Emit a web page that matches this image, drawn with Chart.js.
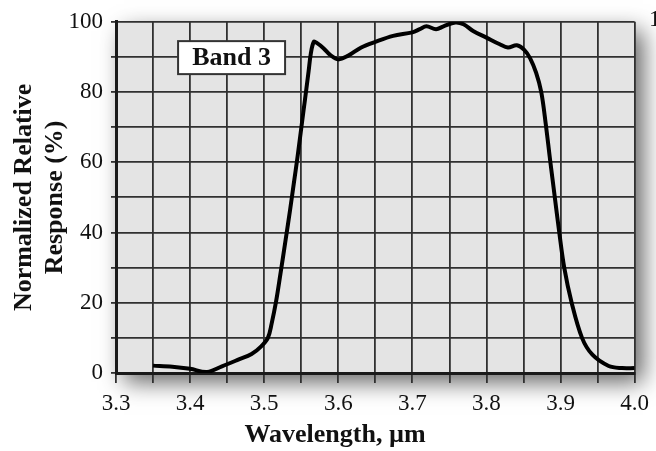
<!DOCTYPE html>
<html>
<head>
<meta charset="utf-8">
<script src="https://cdn.jsdelivr.net/npm/chart.js@4.4.1/dist/chart.umd.min.js"></script>
<style>
  html, body { margin: 0; padding: 0; background: #fff; }
  #wrap { width: 656px; height: 451px; position: relative; }
</style>
</head>
<body>
<div id="wrap"><canvas id="chart" width="656" height="451"></canvas></div>
<script>
// wavelength (µm) and normalized response (%)
const wavelength = [3.350, 3.376, 3.400, 3.423, 3.443, 3.465, 3.483, 3.496, 3.505, 3.510,
    3.516, 3.522, 3.529, 3.535, 3.540, 3.545, 3.549, 3.553, 3.557, 3.560,
    3.563, 3.567, 3.571, 3.580, 3.589, 3.600, 3.613, 3.631, 3.650, 3.674,
    3.700, 3.710, 3.719, 3.732, 3.742, 3.758, 3.769, 3.782, 3.800, 3.818,
    3.829, 3.841, 3.851, 3.859, 3.867, 3.874, 3.880, 3.886, 3.892, 3.898,
    3.905, 3.915, 3.929, 3.943, 3.965, 3.983, 4.000];
const response = [2.1, 1.8, 1.2, 0.3, 1.9, 3.8, 5.4, 7.6, 10.0, 14.0,
    20.3, 28.3, 38.0, 46.5, 54.0, 61.5, 68.0, 74.5, 81.0, 86.0,
    91.0, 94.3, 94.0, 92.5, 90.6, 89.3, 90.3, 92.7, 94.3, 96.0,
    97.0, 97.9, 98.7, 97.9, 98.7, 99.8, 99.3, 97.4, 95.5, 93.6,
    92.7, 93.3, 92.0, 89.6, 85.5, 80.0, 71.0, 60.5, 50.5, 40.5,
    30.0, 20.0, 10.0, 5.2, 2.0, 1.4, 1.4];

const X_MIN = 3.3, X_MAX = 4.0, X_STEP = 0.05;
const Y_MIN = 0, Y_MAX = 100, Y_STEP = 10;

const xTitle = "Wavelength, \u00b5m";
const yTitle = ["Normalized Relative", "Response (%)"];
const bandLabel = "Band 3";
const bandLabelAt = [3.456, 89.8];   // center of the label box, in data units

const SERIF = "'Liberation Serif', 'Times New Roman', serif";

// grey panel with drop shadow behind the grid
const panelShadow = {
    id: "panelShadow",
    beforeDraw(chart) {
        const { ctx, chartArea: a } = chart;
        ctx.save();
        ctx.shadowColor = "rgba(0,0,0,0.62)";
        ctx.shadowBlur = 22;
        ctx.shadowOffsetX = 8;
        ctx.shadowOffsetY = 9;
        ctx.fillStyle = "#e4e4e4";
        ctx.fillRect(a.left, a.top, a.right - a.left, a.bottom - a.top);
        ctx.restore();
    }
};

// label box, x title and the stray "100" of the next panel
const extras = {
    id: "extras",
    afterDraw(chart) {
        const { ctx, scales } = chart;
        ctx.save();
        const cx = scales.x.getPixelForValue(bandLabelAt[0]);
        const cy = scales.y.getPixelForValue(bandLabelAt[1]);
        const w = 107, h = 33;
        ctx.fillStyle = "#fff";
        ctx.fillRect(cx - w / 2, cy - h / 2, w, h);
        ctx.strokeStyle = "#333";
        ctx.lineWidth = 2;
        ctx.strokeRect(cx - w / 2, cy - h / 2, w, h);
        ctx.fillStyle = "#111";
        ctx.font = "bold 26px " + SERIF;
        ctx.textAlign = "center";
        ctx.textBaseline = "middle";
        ctx.fillText(bandLabel, cx, cy + 1);

        ctx.font = "bold 26px " + SERIF;
        ctx.textBaseline = "alphabetic";
        ctx.fillText(xTitle, 335, 442);

        ctx.font = "23px " + SERIF;
        ctx.textAlign = "left";
        ctx.fillText("100", 649, 26);
        ctx.restore();
    }
};

const isTenth = v => Math.abs(Math.round(v * 10) - v * 10) < 1e-6;

new Chart(document.getElementById("chart"), {
    type: "line",
    data: {
        datasets: [{
            data: wavelength.map((x, i) => ({ x, y: response[i] })),
            borderColor: "#000",
            borderWidth: 4,
            pointRadius: 0,
            tension: 0.35,
            fill: false
        }]
    },
    options: {
        responsive: false,
        animation: false,
        layout: { padding: { top: 19, right: 17, bottom: 0, left: 0 } },
        plugins: { legend: { display: false }, tooltip: { enabled: false } },
        scales: {
            x: {
                type: "linear",
                min: X_MIN,
                max: X_MAX,
                afterFit: s => { s.height = 78; },
                ticks: {
                    stepSize: X_STEP,
                    autoSkip: false,
                    maxRotation: 0,
                    padding: 7,
                    color: "#111",
                    font: { family: SERIF, size: 23 },
                    callback: v => isTenth(v) ? Number(v).toFixed(1) : ""
                },
                grid: { color: "#303030", lineWidth: 1.8, tickLength: 10 },
                border: { display: true, color: "#1a1a1a", width: 3 }
            },
            y: {
                min: Y_MIN,
                max: Y_MAX,
                afterFit: s => { s.width = 116; },
                ticks: {
                    stepSize: Y_STEP,
                    padding: 8,
                    color: "#111",
                    font: { family: SERIF, size: 23 },
                    callback: v => v % 20 === 0 ? v : ""
                },
                grid: { color: "#303030", lineWidth: 1.8, tickLength: 5 },
                border: { display: true, color: "#1a1a1a", width: 3 },
                title: {
                    display: true,
                    text: yTitle,
                    color: "#111",
                    font: { family: SERIF, size: 26, weight: "bold", lineHeight: 1.22 },
                    padding: { top: 8, bottom: 0 }
                }
            }
        }
    },
    plugins: [panelShadow, extras]
});
</script>
</body>
</html>
